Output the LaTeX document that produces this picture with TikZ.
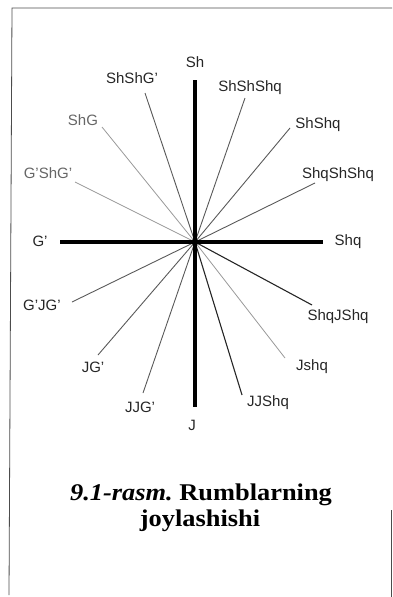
\documentclass[tikz,border=0pt]{standalone}
\usepackage{fontspec}
\setmainfont{Liberation Serif}
\newfontfamily\labfont{Liberation Sans}
\begin{document}
\begin{tikzpicture}[x=1pt,y=-1pt,
  lbl/.style={font=\labfont\fontsize{15}{15}\selectfont, text=black!85, inner sep=0pt},
  lbllight/.style={lbl, text=black!60},
  ray/.style={line width=0.9pt, draw=black!65},
  raylight/.style={line width=0.8pt, draw=black!40},
  raydark/.style={line width=1.1pt, draw=black!85},
  axis/.style={line width=3.2pt, draw=black},
  frame/.style={line width=0.8pt, draw=black!70},
  captext/.style={font=\fontsize{24}{28}\selectfont\bfseries, anchor=base, inner sep=0pt}]
\useasboundingbox (0,0) rectangle (392,597);
% frame
\coordinate (fbl) at (9,595);
\coordinate (ftl) at (12,8);
\coordinate (ftr) at (392,8);
\coordinate (frt) at (391,510);
\coordinate (frb) at (391,597);
\draw[frame] (fbl) -- (ftl) -- (ftr);
\draw[frame] (frt) -- (frb);
% centre and ray ends
\coordinate (O) at (195,242);
\coordinate (eN) at (195,80);
\coordinate (eS) at (195,407);
\coordinate (eW) at (60,242);
\coordinate (eE) at (323,242);
\coordinate (e1) at (145,93);
\coordinate (e2) at (102,127);
\coordinate (e3) at (75,182);
\coordinate (e4) at (245,98);
\coordinate (e5) at (290,128);
\coordinate (e6) at (315,183);
\coordinate (e7) at (72,302);
\coordinate (e8) at (98,355);
\coordinate (e9) at (143,393);
\coordinate (e10) at (312,305);
\coordinate (e11) at (285,358);
\coordinate (e12) at (242,395);
% rays
\draw[ray] (O) -- (e1);
\draw[raylight] (O) -- (e2);
\draw[raylight] (O) -- (e3);
\draw[ray] (O) -- (e4);
\draw[ray] (O) -- (e5);
\draw[ray] (O) -- (e6);
\draw[ray] (O) -- (e7);
\draw[ray] (O) -- (e8);
\draw[ray] (O) -- (e9);
\draw[raydark] (O) -- (e10);
\draw[raylight] (O) -- (e11);
\draw[raydark] (O) -- (e12);
% axes
\draw[axis] (eN) -- (eS);
\draw[axis] (eW) -- (eE);
\fill (O) circle (3.5pt);
% labels
\node[lbl] (lN) at (195,62) {Sh};
\node[lbl] (lS) at (192,425) {J};
\node[lbl] (lW) at (40,241) {G’};
\node[lbl] (lE) at (348,242) {Shq};
\node[lbl] (l1) at (132,78) {ShShG’};
\node[lbllight] (l2) at (83,120) {ShG};
\node[lbllight] (l3) at (48,173) {G’ShG’};
\node[lbl] (l4) at (250,88) {ShShShq};
\node[lbl] (l5) at (318,125) {ShShq};
\node[lbl] (l6) at (338,175) {ShqShShq};
\node[lbl] (l7) at (42,305) {G’JG’};
\node[lbl] (l8) at (93,367) {JG’};
\node[lbl] (l9) at (140,407) {JJG’};
\node[lbl] (l10) at (338,317) {ShqJShq};
\node[lbl] (l11) at (312,367) {Jshq};
\node[lbl] (l12) at (268,403) {JJShq};
% caption
\node[captext] (c1) at (201,500) {\scalebox{1.1}[1]{\itshape 9.1-rasm.\upshape\ Rumblarning}};
\node[captext] (c2) at (200,526) {\scalebox{1.1}[1]{joylashishi}};
\end{tikzpicture}
\end{document}
